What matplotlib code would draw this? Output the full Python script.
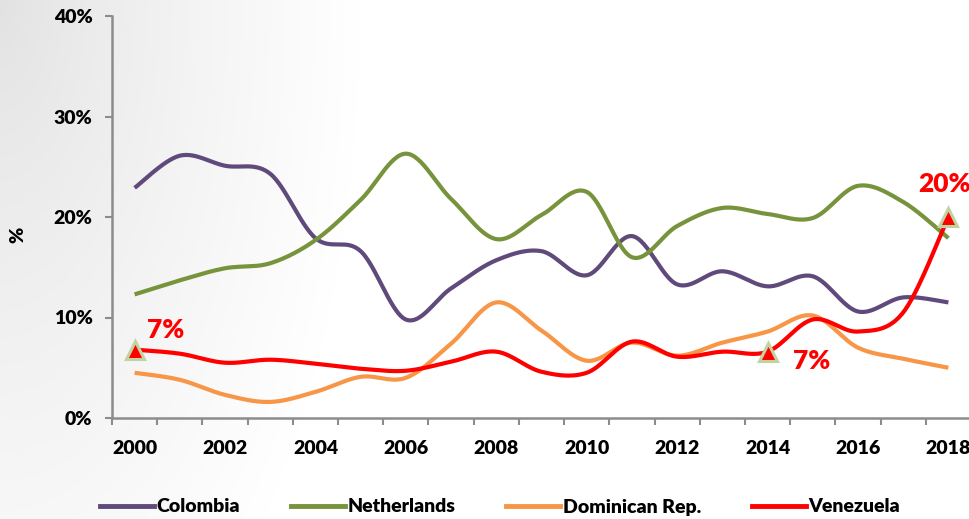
import numpy as np
import matplotlib
matplotlib.use("Agg")
import matplotlib.pyplot as plt
from matplotlib.lines import Line2D

plt.rcParams['font.family'] = ['Lato', 'DejaVu Sans']
plt.rcParams['font.weight'] = 'heavy'

# ---- data (share, %) ----
years = list(range(2000, 2019))
tick_years = [2000, 2002, 2004, 2006, 2008, 2010, 2012, 2014, 2016, 2018]
y_ticks = [0, 10, 20, 30, 40]

colombia = [22.9, 26.1, 25.1, 24.3, 17.9, 16.6, 9.8, 12.9, 15.7, 16.6,
            14.2, 18.1, 13.3, 14.6, 13.1, 14.1, 10.6, 12.0, 11.5]
netherlands = [12.3, 13.7, 14.9, 15.4, 17.7, 21.7, 26.3, 21.8, 17.8, 20.2,
               22.5, 16.0, 19.1, 20.9, 20.3, 19.9, 23.1, 21.5, 17.9]
dominican = [4.5, 3.8, 2.3, 1.6, 2.6, 4.1, 4.0, 7.4, 11.5, 8.7,
             5.7, 7.5, 6.2, 7.5, 8.6, 10.2, 7.0, 5.9, 5.0]
venezuela = [6.8, 6.4, 5.5, 5.8, 5.4, 4.9, 4.7, 5.6, 6.6, 4.6,
             4.5, 7.6, 6.1, 6.6, 6.6, 9.8, 8.6, 10.5, 20.0]

series_names = ["Colombia", "Netherlands", "Dominican Rep.", "Venezuela"]
series_colors = ["#604A7B", "#77933C", "#F79646", "#FF0000"]
highlight_years = [2000, 2014, 2018]


def smooth(xs, ys, n=30):
    """Catmull-Rom spline through the points (Excel-style smoothed line)."""
    x = np.asarray(xs, float)
    y = np.asarray(ys, float)
    px = np.concatenate([[x[0]], x, [x[-1]]])
    py = np.concatenate([[y[0]], y, [y[-1]]])
    out_x, out_y = [], []
    t = np.linspace(0, 1, n, endpoint=False)
    for i in range(1, len(px) - 2):
        for arr, out in ((px, out_x), (py, out_y)):
            p0, p1, p2, p3 = arr[i - 1], arr[i], arr[i + 1], arr[i + 2]
            out.extend(0.5 * ((2 * p1) + (-p0 + p2) * t
                              + (2 * p0 - 5 * p1 + 4 * p2 - p3) * t ** 2
                              + (-p0 + 3 * p1 - 3 * p2 + p3) * t ** 3))
    out_x.append(x[-1])
    out_y.append(y[-1])
    return np.array(out_x), np.array(out_y)


W, H = 970, 519
fig = plt.figure(figsize=(W / 100, H / 100), dpi=100)

# soft grey shading from the top-left corner of the slide
bg = fig.add_axes([0, 0, 1, 1], zorder=-10)
gx, gy = np.meshgrid(np.arange(W), np.arange(H))
d = np.sqrt((gx / 360.0) ** 2 + (gy / 760.0) ** 2)
shade = 0.885 + 0.115 * np.clip(d, 0, 1) ** 0.8
bg.imshow(np.dstack([shade] * 3), aspect='auto', extent=[0, 1, 0, 1])
bg.axis('off')

left, right, top, bottom = 112, 971, 16, 418
ax = fig.add_axes([left / W, (H - bottom) / H, (right - left) / W, (bottom - top) / H])
ax.patch.set_alpha(0)

for name, vals, col in zip(series_names,
                           [colombia, netherlands, dominican, venezuela],
                           series_colors):
    sx, sy = smooth(years, vals)
    ax.plot(sx, sy, color=col, lw=3.0, solid_capstyle='butt', label=name,
            zorder=3)

# highlighted Venezuela values
label_offsets = {2000: (9, 14), 2014: (18, -7), 2018: (-22, 24)}
for yr in highlight_years:
    v = venezuela[years.index(yr)]
    ax.plot([yr], [v], marker='^', ms=13.5, mfc='#FF0000', mec='#C2D3A2',
            mew=2.2, zorder=5, clip_on=False)
    ax.annotate(f"{v:.0f}%", (yr, v), xytext=label_offsets[yr],
                textcoords='offset points', ha='left', va='center',
                color='#FF0000', fontsize=19, fontweight='heavy',
                annotation_clip=False, zorder=6)

ax.set_xlim(1999.5, 2018.5)
ax.set_ylim(0, 40)

ax.set_xticks(tick_years)
ax.set_xticklabels([str(y) for y in tick_years])
ax.set_xticks(np.arange(1999.5, 2019.0, 1.0), minor=True)
ax.tick_params(axis='x', which='major', length=0, pad=16, labelsize=14)
ax.tick_params(axis='x', which='minor', length=5, width=1.5,
               color='#8C8C8C', direction='out')

ax.set_yticks(y_ticks)
ax.set_yticklabels([f"{t}%" for t in y_ticks])
ax.tick_params(axis='y', which='major', length=5, width=1.5,
               color='#8C8C8C', pad=9, labelsize=14)

for s in ['top', 'right']:
    ax.spines[s].set_visible(False)
for s in ['left', 'bottom']:
    ax.spines[s].set_color('#8C8C8C')
    ax.spines[s].set_linewidth(1.8)

fig.text(18 / W, 1 - 235 / H, "%", rotation=90, ha='center', va='center',
         fontsize=14, fontweight='heavy')

handles = [Line2D([0], [0], color=c, lw=3.5) for c in series_colors]
fig.legend(handles, series_names, loc='center', ncol=4,
           bbox_to_anchor=(500 / W, 1 - 507 / H), frameon=False,
           fontsize=14, handlelength=2.8, handletextpad=0.12,
           columnspacing=2.6)

fig.savefig("out.png", dpi=100)
